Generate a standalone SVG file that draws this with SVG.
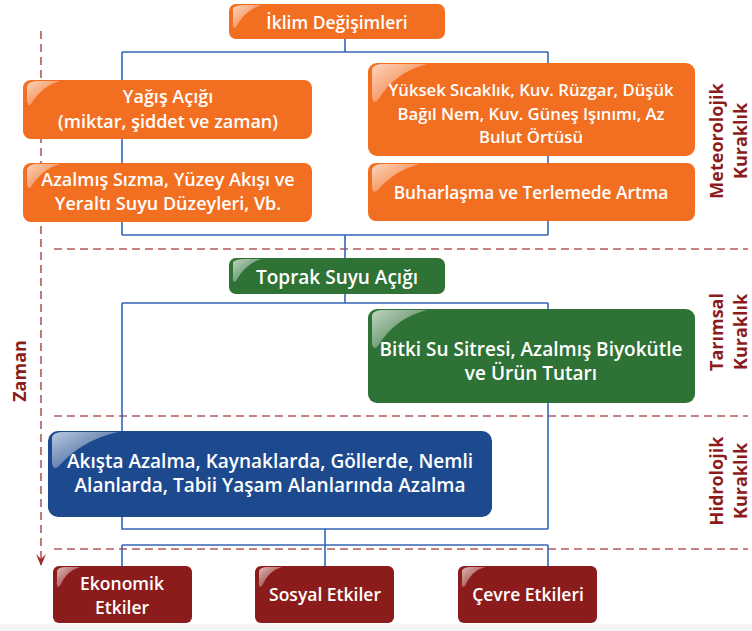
<svg xmlns="http://www.w3.org/2000/svg" width="752" height="631" viewBox="0 0 752 631">
<defs>
<linearGradient id="gl" x1="0" y1="0" x2="1" y2="1">
<stop offset="0" stop-color="#fff" stop-opacity="0.7"/>
<stop offset="1" stop-color="#fff" stop-opacity="0"/>
</linearGradient>
<marker id="arr" viewBox="0 0 12 10" refX="11" refY="5" markerWidth="12" markerHeight="10" markerUnits="userSpaceOnUse" orient="auto">
<path d="M0,0 L12,5 L0,10 L5,5 Z" fill="#9B2B2B"/>
</marker>
</defs>
<style>
.box{stroke:none}
.or{fill:#F26F21}
.gr{fill:#2F7236}
.bl{fill:#1D4A8F}
.rd{fill:#8C1C1B}
.t{font-family:"Open Sans","Noto Sans",sans-serif;font-weight:600;font-size:17.5px;fill:#fff;text-anchor:middle}
.side{font-family:"Open Sans","Noto Sans",sans-serif;font-weight:700;font-size:18px;fill:#8C1C1B;text-anchor:middle}
.con{fill:none;stroke:#3366B8;stroke-width:1.6}
.dash{fill:none;stroke:#B45A57;stroke-width:1.6;stroke-dasharray:8 5}
.hl{fill:url(#gl)}
</style>
<rect x="0" y="624" width="752" height="7" fill="#f3f3f3"/>
<g id="guides">
<line class="dash" x1="41" y1="31" x2="41" y2="565" marker-end="url(#arr)"/>
<line class="dash" x1="54" y1="249" x2="748" y2="249"/>
<line class="dash" x1="54" y1="416" x2="748" y2="416"/>
<line class="dash" x1="54" y1="549" x2="748" y2="549"/>
</g>
<g id="connectors">
<path class="con" d="M345,39 V52 M122,52 H548 M122,52 V235 M548,52 V235 M122,235 H548 M345,235 V258"/>
<path class="con" d="M345,294 V303 M122,303 H548 M122,303 V431 M548,303 V529 M122,517 V529 H548 M325,529 V566 M122,545 H548 M122,545 V566 M548,545 V567"/>
</g>
<g id="n1"><rect class="box or" x="229" y="4" width="216" height="35" rx="7"/><path class="hl" d="M233,8 Q236,5 245,5 L262,5 Q246,9 236,27 Q232,30 233,22 Z"/><text class="t" x="337" y="29">İklim Değişimleri</text></g>
<g id="n2"><rect class="box or" x="23" y="80" width="289" height="59" rx="8"/><path class="hl" d="M27,86 Q29,81 38,81 L60,81 Q42,86 31,104 Q27,108 27,98 Z"/><text class="t" x="168" y="103" style="font-size:18px">Yağış Açığı</text><text class="t" x="168" y="128" style="font-size:18px">(miktar, şiddet ve zaman)</text></g>
<g id="n3"><rect class="box or" x="23" y="163" width="289" height="59" rx="8"/><path class="hl" d="M27,169 Q29,164 38,164 L60,164 Q42,169 31,187 Q27,191 27,181 Z"/><text class="t" x="168" y="186" style="font-size:18px">Azalmış Sızma, Yüzey Akışı ve</text><text class="t" x="168" y="210" style="font-size:18px">Yeraltı Suyu Düzeyleri, Vb.</text></g>
<g id="n4"><rect class="box or" x="368" y="63" width="327" height="93" rx="9"/><path class="hl" d="M372,69 Q374,64 383,64 L427,64 Q395,72 378,100 Q372,106 372,94 Z"/><text class="t" x="531" y="96" style="font-size:16.7px">Yüksek Sıcaklık, Kuv. Rüzgar, Düşük</text><text class="t" x="531" y="120" style="font-size:16.7px">Bağıl Nem, Kuv. Güneş Işınımı, Az</text><text class="t" x="531" y="143" style="font-size:16.7px">Bulut Örtüsü</text></g>
<g id="n5"><rect class="box or" x="368" y="163" width="327" height="58" rx="8"/><path class="hl" d="M372,169 Q374,164 383,164 L420,164 Q395,170 378,190 Q372,195 372,185 Z"/><text class="t" x="531" y="199" style="font-size:17.3px">Buharlaşma ve Terlemede Artma</text></g>
<g id="n6"><rect class="box gr" x="229" y="258" width="216" height="36" rx="7"/><path class="hl" d="M233,262 Q236,259 245,259 L262,259 Q246,263 236,281 Q232,284 233,276 Z"/><text class="t" x="337" y="284" style="font-size:19px">Toprak Suyu Açığı</text></g>
<g id="n7"><rect class="box gr" x="368" y="309" width="327" height="94" rx="9"/><path class="hl" d="M372,315 Q374,310 383,310 L427,310 Q395,318 378,346 Q372,352 372,340 Z"/><text class="t" x="531" y="356" style="font-size:19px">Bitki Su Sitresi, Azalmış Biyokütle</text><text class="t" x="531" y="380" style="font-size:19px">ve Ürün Tutarı</text></g>
<g id="n8"><rect class="box bl" x="48" y="431" width="444" height="86" rx="10"/><path class="hl" d="M52,437 Q54,432 63,432 L118,432 Q82,440 59,466 Q52,472 52,460 Z"/><text class="t" x="270" y="468" style="font-size:19px">Akışta Azalma, Kaynaklarda, Göllerde, Nemli</text><text class="t" x="270" y="492" style="font-size:19px">Alanlarda, Tabii Yaşam Alanlarında Azalma</text></g>
<g id="n9"><rect class="box rd" x="53" y="566" width="139" height="57" rx="6"/><path class="hl" d="M57,571 Q58,567 66,567 L80,567 Q66,571 60,586 Q56,589 57,581 Z"/><text class="t" x="122" y="590">Ekonomik</text><text class="t" x="122" y="614">Etkiler</text></g>
<g id="n10"><rect class="box rd" x="255" y="566" width="139" height="57" rx="6"/><path class="hl" d="M259,571 Q260,567 268,567 L282,567 Q268,571 262,586 Q258,589 259,581 Z"/><text class="t" x="325" y="601">Sosyal Etkiler</text></g>
<g id="n11"><rect class="box rd" x="458" y="566" width="139" height="57" rx="6"/><path class="hl" d="M462,571 Q463,567 471,567 L485,567 Q471,571 465,586 Q461,589 462,581 Z"/><text class="t" x="528" y="601">Çevre Etkileri</text></g>
<g id="labels">
<text class="side" transform="translate(723,141) rotate(-90)">Meteorolojik</text>
<text class="side" transform="translate(747,141) rotate(-90)">Kuraklık</text>
<text class="side" transform="translate(723,332) rotate(-90)">Tarımsal</text>
<text class="side" transform="translate(747,332) rotate(-90)">Kuraklık</text>
<text class="side" transform="translate(723,481) rotate(-90)">Hidrolojik</text>
<text class="side" transform="translate(747,481) rotate(-90)">Kuraklık</text>
<text class="side" transform="translate(26,371) rotate(-90)">Zaman</text>
</g>
</svg>
